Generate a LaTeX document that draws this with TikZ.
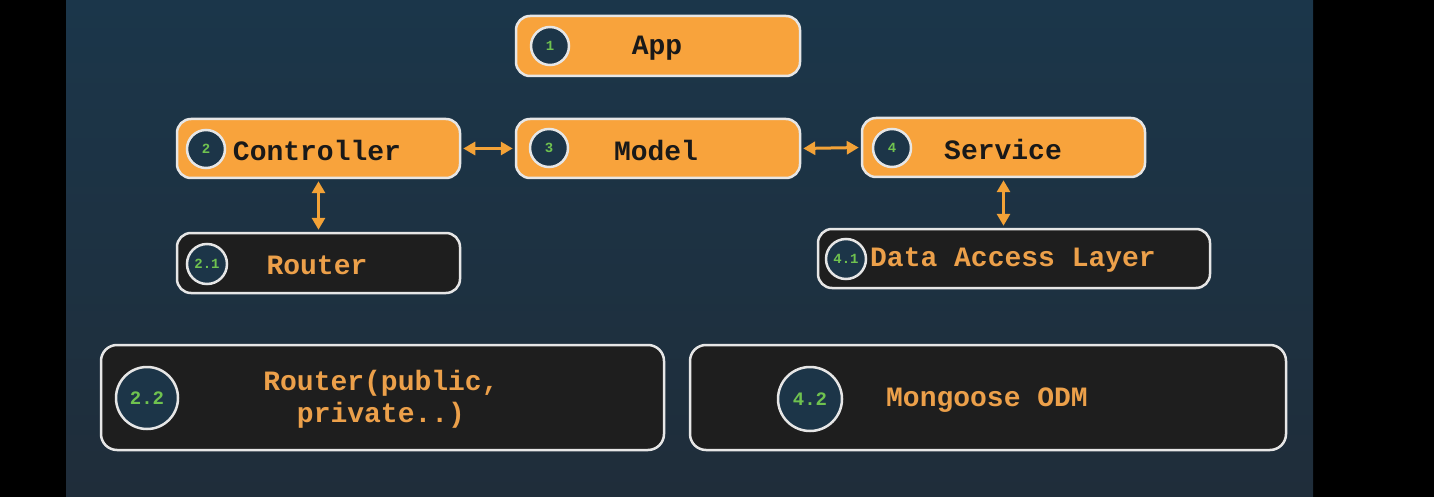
\documentclass[tikz,border=0pt]{standalone}
\usepackage{fontspec}
\setmonofont{Liberation Mono}
\usetikzlibrary{arrows.meta}
\definecolor{bgtop}{HTML}{1B364A}
\definecolor{bgbot}{HTML}{1F2D3A}
\definecolor{orfill}{HTML}{F8A33C}
\definecolor{dkfill}{HTML}{1E1E1E}
\definecolor{edge}{HTML}{E6E6E6}
\definecolor{circfill}{HTML}{1C3548}
\definecolor{numgreen}{HTML}{6FC24F}
\definecolor{ortext}{HTML}{ECA04A}
\definecolor{arrcol}{HTML}{F3A237}
\tikzset{
  obox/.style={draw=edge, line width=2.5pt, rounded corners=14pt, fill=orfill, inner sep=0pt},
  dbox/.style={draw=edge, line width=2.5pt, rounded corners=14pt, fill=dkfill, inner sep=0pt},
  numc/.style={circle, draw=edge, line width=2.5pt, fill=circfill, inner sep=0pt, minimum size=38pt,
    font=\ttfamily\bfseries\fontsize{14}{14}\selectfont, text=numgreen},
  btxt/.style={font=\ttfamily\bfseries\fontsize{28}{30}\selectfont, text=black!90, inner sep=0pt},
  otxt/.style={font=\ttfamily\bfseries\fontsize{28}{32}\selectfont, text=ortext, inner sep=0pt, align=center},
  arr/.style={draw=arrcol, line width=3pt, {Triangle[length=12pt,width=13pt]}-{Triangle[length=12pt,width=13pt]}, shorten <=2pt, shorten >=2pt}
}
\begin{document}
\begin{tikzpicture}[x=1pt,y=-1pt]
\fill[black] (0,0) rectangle (1434,497);
\shade[top color=bgtop, bottom color=bgbot] (66,0) rectangle (1313,497);
\useasboundingbox (0,0) rectangle (1434,497);

% boxes
\node[obox, minimum width=284pt, minimum height=60pt] (app) at (658,46) {};
\node[obox, minimum width=283pt, minimum height=59pt] (ctrl) at (318.5,148.5) {};
\node[obox, minimum width=284pt, minimum height=59pt] (model) at (658,148.5) {};
\node[obox, minimum width=283pt, minimum height=59pt] (svc) at (1003.5,147.5) {};
\node[dbox, minimum width=283pt, minimum height=60pt] (router) at (318.5,263) {};
\node[dbox, minimum width=392pt, minimum height=59pt] (dal) at (1014,258.5) {};
\node[dbox, minimum width=563pt, minimum height=105pt, rounded corners=16pt] (rpub) at (382.5,397.5) {};
\node[dbox, minimum width=596pt, minimum height=105pt, rounded corners=16pt] (mongo) at (988,397.5) {};

% number circles
\node[numc] (n1) at (550,46) {1};
\node[numc] (n2) at (206,149) {2};
\node[numc] (n3) at (549,148) {3};
\node[numc] (n4) at (892,148) {4};
\node[numc, minimum size=40pt] (n21) at (207,264) {2.1};
\node[numc, minimum size=40pt] (n41) at (846,259) {4.1};
\node[numc, minimum size=62pt, font=\ttfamily\bfseries\fontsize{19}{19}\selectfont] (n22) at (147,398) {2.2};
\node[numc, minimum size=64pt, font=\ttfamily\bfseries\fontsize{19}{19}\selectfont] (n42) at (810,399) {4.2};

% texts
\node[btxt] (tapp) at (657,48) {App};
\node[btxt] (tctrl) at (317,150) {Controller};
\node[btxt] (tmodel) at (656,150) {Model};
\node[btxt] (tsvc) at (1003,149) {Service};
\node[otxt] (trouter) at (317,265) {Router};
\node[otxt] (tdal) at (1013,260) {Data Access Layer};
\node[otxt] (trpub) at (381,399) {Router(public,\\private..)};
\node[otxt] (tmongo) at (987,400) {Mongoose ODM};

% connectors
\draw[arr] (ctrl.east) -- (model.west);
\draw[arr] (model.east) -- (svc.west);
\draw[arr] (ctrl.south) -- (router.north);
\draw[arr] (svc.south) -- (svc.south |- dal.north);
\end{tikzpicture}
\end{document}
